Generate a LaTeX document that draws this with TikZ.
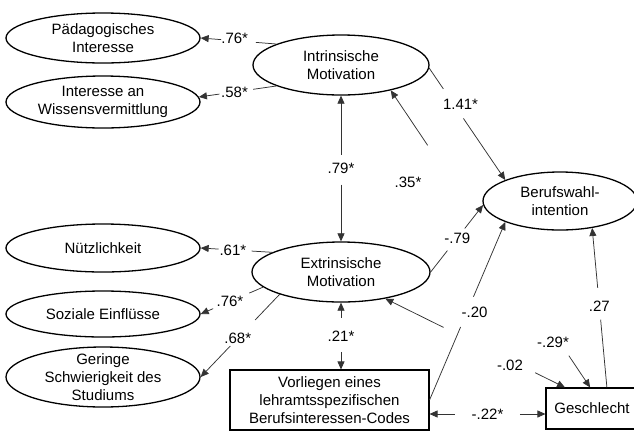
\documentclass[tikz,border=0pt]{standalone}
\usepackage{fontspec}
\setmainfont{Liberation Sans}
\usetikzlibrary{arrows.meta,calc,shapes.geometric}
\begin{document}
\begin{tikzpicture}[x=1pt,y=-1pt,
  every node/.style={font=\fontsize{15}{18}\selectfont, text=black},
  lat/.style={ellipse, draw=black, line width=1.3pt, inner sep=0pt},
  obs/.style={rectangle, draw=black, line width=1.1pt, inner sep=0pt, align=center},
  con/.style={draw=black!80, line width=0.75pt},
  tipe/.style={-{Triangle[length=8pt,width=7pt]}},
  tips/.style={{Triangle[length=8pt,width=7pt]}-},
  lbl/.style={inner sep=0pt}
]
\useasboundingbox (0,0) rectangle (634,432);

% latent variables
\node[lat, minimum width=194pt, minimum height=50pt,
  label={[align=center]center:Pädagogisches\\Interesse}] (paed) at (103,38) {};
\node[lat, minimum width=194pt, minimum height=52pt,
  label={[align=center]center:Interesse an\\Wissensvermittlung}] (wiss) at (103,102) {};
\node[lat, minimum width=194pt, minimum height=48pt,
  label={[align=center]center:Nützlichkeit}] (nutz) at (103,248) {};
\node[lat, minimum width=194pt, minimum height=46pt,
  label={[align=center]center:Soziale Einflüsse}] (soz) at (103,314) {};
\node[lat, minimum width=194pt, minimum height=60pt,
  label={[align=center]center:Geringe\\Schwierigkeit des\\Studiums}] (ger) at (103,377) {};
\node[lat, minimum width=176pt, minimum height=60pt,
  label={[align=center]center:Intrinsische\\Motivation}] (intr) at (341,65) {};
\node[lat, minimum width=178pt, minimum height=60pt,
  label={[align=center]center:Extrinsische\\Motivation}] (extr) at (341,272) {};
\node[lat, minimum width=154pt, minimum height=58pt,
  label={[align=center]center:Berufswahl-\\intention}] (beruf) at (560,201) {};

% observed variables
\node[obs, minimum width=199pt, minimum height=60pt] (vorl) at (329.5,400)
  {Vorliegen eines\\lehramtsspezifischen\\Berufsinteressen-Codes};
\node[obs, minimum width=92pt, minimum height=41pt] (geschl) at (592,408.5) {Geschlecht};

% 1 intr -> paed
\coordinate (a1) at (intr.162); \coordinate (b1) at (paed.east);
\draw[con] (a1) -- ($(a1)!0.27!(b1)$);
\draw[con,tipe] ($(a1)!0.73!(b1)$) -- (b1);
\node[lbl] at ($(a1)!0.55!(b1)+(0,-2)$) {.76*};

% 2 intr -> wiss
\coordinate (a2) at (intr.198); \coordinate (b2) at (wiss.3);
\draw[con] (a2) -- ($(a2)!0.30!(b2)$);
\draw[con,tipe] ($(a2)!0.735!(b2)$) -- (b2);
\node[lbl] at ($(a2)!0.54!(b2)$) {.58*};

% 3 intr <-> extr
\coordinate (a3) at (intr.south); \coordinate (b3) at (extr.north);
\draw[con,tips] (a3) -- ($(a3)!0.41!(b3)$);
\draw[con,tipe] ($(a3)!0.61!(b3)$) -- (b3);
\node[lbl] at ($(a3)!0.5!(b3)$) {.79*};

% 4 intr -> beruf
\coordinate (a4) at (intr.-2); \coordinate (b4) at (beruf.159);
\draw[con] (a4) -- ($(a4)!0.186!(b4)$);
\draw[con,tipe] ($(a4)!0.45!(b4)$) -- (b4);
\node[lbl] at ($(a4)!0.32!(b4)+(7,0)$) {1.41*};

% 5 geschl <-> intr (.35* / -.29*)
\coordinate (a5) at ($(geschl.north west)!0.48!(geschl.north east)$);
\coordinate (b5) at (intr.-27);
\draw[con,tips] (a5) -- ($(a5)!0.107!(b5)$);
\draw[con,tipe] ($(a5)!0.815!(b5)$) -- (b5);
\node[lbl] at (408,182) {.35*};
\node[lbl] at (553,342) {-.29*};

% 6 geschl <-> extr (-.02)
\coordinate (a6) at ($(geschl.north west)!0.21!(geschl.north east)$);
\coordinate (b6) at (extr.-31);
\draw[con,tips] (a6) -- ($(a6)!0.166!(b6)$);
\draw[con,tipe] ($(a6)!0.676!(b6)$) -- (b6);
\node[lbl] at (510,365) {-.02};

% 7 extr -> beruf
\coordinate (a7) at (extr.east); \coordinate (b7) at (beruf.183);
\draw[con] (a7) -- ($(a7)!0.32!(b7)$);
\draw[con,tipe] ($(a7)!0.65!(b7)$) -- (b7);
\node[lbl] at ($(a7)!0.51!(b7)$) {-.79};

% 8 vorl -> beruf
\coordinate (a8) at (vorl.east); \coordinate (b8) at (beruf.201);
\draw[con] (a8) -- ($(a8)!0.41!(b8)$);
\draw[con,tipe] ($(a8)!0.58!(b8)$) -- (b8);
\node[lbl] at ($(a8)!0.49!(b8)+(8,0)$) {-.20};

% 9 geschl -> beruf
\coordinate (a9) at ($(geschl.north west)!0.66!(geschl.north east)$);
\coordinate (b9) at (beruf.-40);
\draw[con] (a9) -- ($(a9)!0.425!(b9)$);
\draw[con,tipe] ($(a9)!0.625!(b9)$) -- (b9);
\node[lbl] at ($(a9)!0.51!(b9)$) {.27};

% 10 extr <-> vorl
\coordinate (a10) at (extr.south); \coordinate (b10) at (extr.south |- vorl.north);
\draw[con,tips] (a10) -- ($(a10)!0.235!(b10)$);
\draw[con,tipe] ($(a10)!0.735!(b10)$) -- (b10);
\node[lbl] at ($(a10)!0.51!(b10)$) {.21*};

% 11 vorl <-> geschl
\coordinate (a11) at ($(vorl.east)+(0,14)$); \coordinate (b11) at (a11 -| geschl.west);
\draw[con,tips] (a11) -- ($(a11)!0.22!(b11)$);
\draw[con,tipe] ($(a11)!0.78!(b11)$) -- (b11);
\node[lbl] at ($(a11)!0.5!(b11)$) {-.22*};

% 12 extr -> nutz
\coordinate (a12) at (extr.164); \coordinate (b12) at (nutz.east);
\draw[con] (a12) -- ($(a12)!0.29!(b12)$);
\draw[con,tipe] ($(a12)!0.75!(b12)$) -- (b12);
\node[lbl] at ($(a12)!0.55!(b12)$) {.61*};

% 13 extr -> soz
\coordinate (a13) at (extr.191); \coordinate (b13) at (soz.east);
\draw[con] (a13) -- ($(a13)!0.22!(b13)$);
\draw[con,tipe] ($(a13)!0.8!(b13)$) -- (b13);
\node[lbl] at ($(a13)!0.53!(b13)$) {.76*};

% 14 extr -> ger
\coordinate (a14) at (extr.200); \coordinate (b14) at (ger.east);
\draw[con] (a14) -- ($(a14)!0.31!(b14)$);
\draw[con,tipe] ($(a14)!0.625!(b14)$) -- (b14);
\node[lbl] at ($(a14)!0.53!(b14)$) {.68*};
\end{tikzpicture}
\end{document}
